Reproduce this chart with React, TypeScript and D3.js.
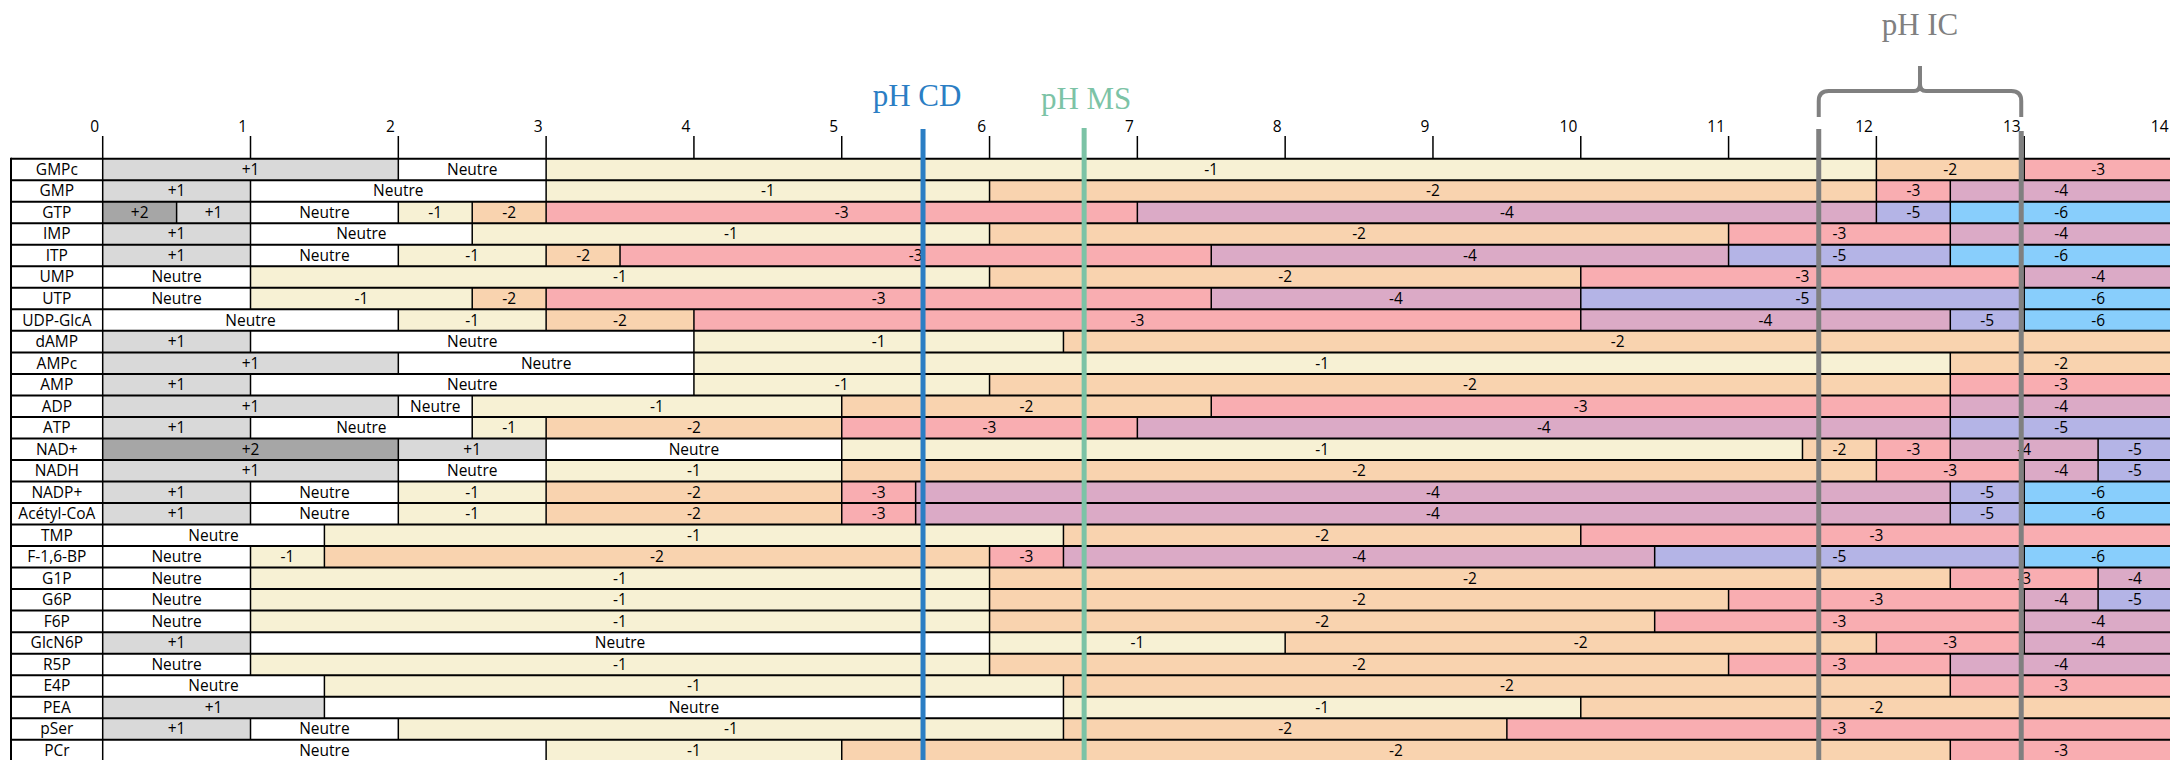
import React from 'react'
import { scaleLinear, scaleBand, range } from 'd3'

// molecules (rows), charge at pH 0, then pH where charge drops by one
const molecules = [
  'GMPc', 'GMP', 'GTP', 'IMP', 'ITP', 'UMP', 'UTP', 'UDP-GlcA', 'dAMP', 'AMPc',
  'AMP', 'ADP', 'ATP', 'NAD+', 'NADH', 'NADP+', 'Acétyl-CoA', 'TMP', 'F-1,6-BP',
  'G1P', 'G6P', 'F6P', 'GlcN6P', 'R5P', 'E4P', 'PEA', 'pSer', 'PCr'
]

const startCharge = [1, 1, 2, 1, 1, 0, 0, 0, 1, 1, 1, 1, 1, 2, 1, 1, 1, 0, 0, 0, 0, 0, 1, 0, 0, 1, 1, 0]

const transitions = [
  [2, 3, 12, 13],
  [1, 3, 6, 12, 12.5],
  [0.5, 1, 2, 2.5, 3, 7, 12, 12.5],
  [1, 2.5, 6, 11, 12.5],
  [1, 2, 3, 3.5, 7.5, 11, 12.5],
  [1, 6, 10, 13],
  [1, 2.5, 3, 7.5, 10, 13],
  [2, 3, 4, 10, 12.5, 13],
  [1, 4, 6.5],
  [2, 4, 12.5],
  [1, 4, 6, 12.5],
  [2, 2.5, 5, 7.5, 12.5],
  [1, 2.5, 3, 5, 7, 12.5],
  [2, 3, 5, 11.5, 12, 12.5, 13.5],
  [2, 3, 5, 12, 13, 13.5],
  [1, 2, 3, 5, 5.5, 12.5, 13],
  [1, 2, 3, 5, 5.5, 12.5, 13],
  [1.5, 6.5, 10],
  [1, 1.5, 6, 6.5, 10.5, 13],
  [1, 6, 12.5, 13.5],
  [1, 6, 11, 13, 13.5],
  [1, 6, 10.5, 13],
  [1, 6, 8, 12, 13],
  [1, 6, 11, 12.5],
  [1.5, 6.5, 12.5],
  [1.5, 6.5, 10],
  [1, 2, 6.5, 9.5],
  [3, 5, 12.5]
]

const phTicks = range(0, 15)
const phCD = 5.55
const phMS = 6.64
const phIC = [11.61, 12.98]

const chargeColors: Record<string, string> = {
  '2': '#a6a6a6',
  '1': '#d9d9d9',
  '0': '#ffffff',
  '-1': '#f7f1d4',
  '-2': '#f9d3af',
  '-3': '#f9adb1',
  '-4': '#dbaac6',
  '-5': '#b4b4e6',
  '-6': '#88cefc'
}

const chargeLabel = (c: number) => (c > 0 ? `+${c}` : c === 0 ? 'Neutre' : `${c}`)

const W = 2170
const H = 760
const labelLeft = 11
const top = 158.7
const rowH = 21.52
const font = "'Open Sans', sans-serif"
const fs = 15.5

export default function App() {
  const x = scaleLinear().domain([0, 14]).range([102.7, 2172])
  const y = scaleBand<string>()
    .domain(molecules)
    .range([top, top + rowH * molecules.length])
    .padding(0)

  const rows = molecules.map((m, i) => {
    const edges = [0, ...transitions[i], 14]
    const segs = edges.slice(0, -1).map((p, j) => ({
      from: p,
      to: edges[j + 1],
      charge: startCharge[i] - j
    }))
    return { name: m, segs, cuts: transitions[i] }
  })

  const bw = y.bandwidth()
  const a = x(phIC[0])
  const b = x(phIC[1])
  const m = (a + b) / 2
  const brace = `M${a},117 V101 Q${a},91 ${a + 10},91 H${m - 6} Q${m},91 ${m},84 V66 M${m},84 Q${m},91 ${m + 6},91 H${b - 10} Q${b},91 ${b},101 V117`

  return (
    <svg width={W} height={H} style={{ position: 'absolute', left: 0, top: 0, background: '#fff' }}>
      {/* segments */}
      {rows.map(r => (
        <g key={r.name}>
          <rect x={labelLeft} y={y(r.name)} width={x(0) - labelLeft} height={bw} fill="#fff" />
          <text x={(labelLeft + x(0)) / 2} y={y(r.name)! + bw / 2} dy="0.35em" textAnchor="middle"
            fontFamily={font} fontSize={fs}>{r.name}</text>
          {r.segs.map(s => (
            <rect key={s.from} x={x(s.from)} y={y(r.name)} width={x(s.to) - x(s.from)} height={bw}
              fill={chargeColors[String(s.charge)]} />
          ))}
          {r.segs.map(s => (
            <text key={'t' + s.from} x={(x(s.from) + x(s.to)) / 2} y={y(r.name)! + bw / 2} dy="0.35em"
              textAnchor="middle" fontFamily={font} fontSize={fs}>{chargeLabel(s.charge)}</text>
          ))}
          {r.cuts.map(c => (
            <line key={'c' + c} x1={x(c)} x2={x(c)} y1={y(r.name)} y2={y(r.name)! + bw}
              stroke="#000" strokeWidth={1.5} />
          ))}
        </g>
      ))}

      {/* table lines */}
      {molecules.map((mo, i) => (
        <line key={'h' + i} x1={labelLeft} x2={W} y1={y(mo)} y2={y(mo)} stroke="#000" strokeWidth={2} />
      ))}
      <line x1={labelLeft} x2={labelLeft} y1={top - 1} y2={H} stroke="#000" strokeWidth={2} />
      <line x1={x(0)} x2={x(0)} y1={top} y2={H} stroke="#000" strokeWidth={1.5} />

      {/* top axis */}
      {phTicks.map(t => (
        <g key={'tick' + t}>
          <line x1={x(t)} x2={x(t)} y1={136} y2={top} stroke="#000" strokeWidth={1.5} />
          <text x={x(t) - 3.5} y={132} textAnchor="end" fontFamily={font} fontSize={fs}>{t}</text>
        </g>
      ))}

      {/* pH markers */}
      <line x1={x(phCD)} x2={x(phCD)} y1={129} y2={H} stroke="#2b7ec4" strokeWidth={5} />
      <text x={x(phCD) - 6} y={106} textAnchor="middle" fontFamily="'Liberation Serif', serif"
        fontSize={31} fill="#2b7ec4">pH CD</text>

      <line x1={x(phMS)} x2={x(phMS)} y1={128} y2={H} stroke="#7cc3a6" strokeWidth={5} />
      <text x={x(phMS) + 2} y={109} textAnchor="middle" fontFamily="'Liberation Serif', serif"
        fontSize={31} fill="#7cc3a6">pH MS</text>

      <line x1={a} x2={a} y1={129} y2={H} stroke="#808080" strokeWidth={5} />
      <line x1={b} x2={b} y1={131} y2={H} stroke="#808080" strokeWidth={5} />
      <path d={brace} fill="none" stroke="#808080" strokeWidth={4} />
      <text x={m} y={35} textAnchor="middle" fontFamily="'Liberation Serif', serif"
        fontSize={31} fill="#808080">pH IC</text>
    </svg>
  )
}
